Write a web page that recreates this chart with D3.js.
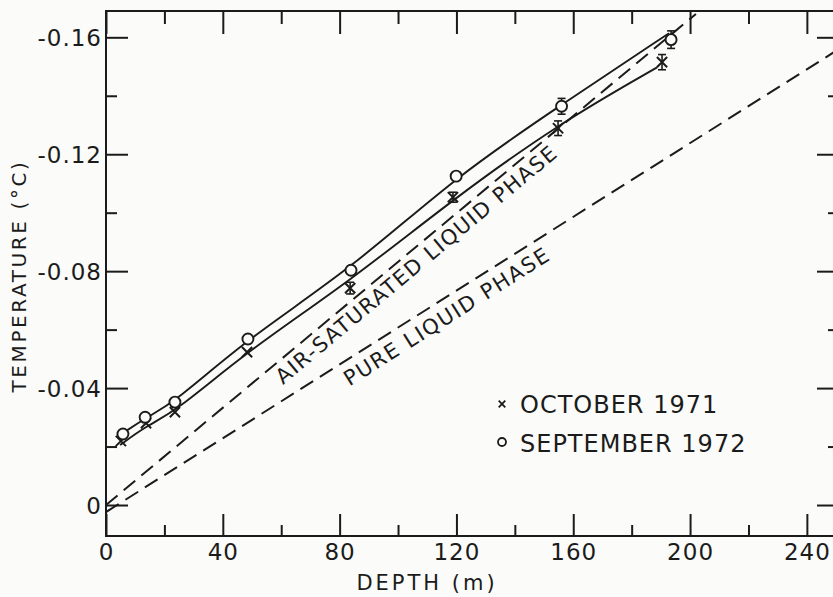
<!DOCTYPE html>
<html>
<head>
<meta charset="utf-8">
<script src="https://d3js.org/d3.v7.min.js"></script>
<style>
  body { margin: 0; background: #fbfbf9; }
  svg text { font-family: "DejaVu Sans", sans-serif; fill: #1b1b1b; }
</style>
</head>
<body>
<div id="chart"></div>
<script>
// measured points, October 1971 (crosses)
var octDepth = [5.1, 13.7, 23.6, 48.3, 83.6, 118.8, 154.8, 190.4];
var octTemp  = [-0.0219, -0.0280, -0.0318, -0.0523, -0.0742, -0.1053, -0.1289, -0.1515];
var octErr   = [0, 0, 0, 0, 0.0020, 0.0017, 0.0025, 0.0026];

// measured points, September 1972 (circles)
var sepDepth = [5.8, 13.4, 23.6, 48.6, 83.9, 119.9, 156.0, 193.5];
var sepTemp  = [-0.0243, -0.0300, -0.0352, -0.0568, -0.0803, -0.1125, -0.1364, -0.1592];
var sepErr   = [0, 0, 0, 0, 0, 0, 0.0027, 0.0030];

// hand drawn curves through each set
var octCurveDepth = [4.8, 13.7, 24.0, 48.3, 83.6, 118.8, 154.8, 188.7];
var octCurveTemp  = [-0.0205, -0.0270, -0.0321, -0.0526, -0.0766, -0.1046, -0.1303, -0.1497];
var sepCurveDepth = [5.8, 13.4, 23.6, 48.6, 83.9, 119.9, 156.2, 192.8];
var sepCurveTemp  = [-0.0246, -0.0297, -0.0352, -0.0571, -0.0807, -0.1125, -0.1371, -0.1614];

// melting point lines
var airDepth  = [0, 202];
var airTemp   = [0.0, -0.168];
var pureDepth = [0, 251];
var pureTemp  = [0.0024, -0.156];

// ticks
var xMajor = [0, 40, 80, 120, 160, 200, 240];
var xMinor = [20, 60, 100, 140, 180, 220];
var yMajor = [0, -0.04, -0.08, -0.12, -0.16];
var yMinor = [-0.02, -0.06, -0.10, -0.14];
var yLabels = ["0", "-0.04", "-0.08", "-0.12", "-0.16"];

var W = 833, H = 597;
var mLeft = 106, mRight = 839, mTop = 11, mBottom = 536;
var ink = "#1b1b1b";

var svg = d3.select("#chart")
  .append("svg")
    .attr("width", W)
    .attr("height", H);

var x = d3.scaleLinear().domain([0, 251]).range([mLeft, mRight]);
var y = d3.scaleLinear().domain([0.0106, -0.169]).range([mBottom, mTop]);

function zip(a, b) { return a.map(function(d, i) { return [d, b[i]]; }); }

svg.append("clipPath").attr("id", "plot")
  .append("rect")
    .attr("x", mLeft).attr("y", mTop)
    .attr("width", mRight - mLeft).attr("height", mBottom - mTop);

// frame
svg.append("rect")
    .attr("x", mLeft).attr("y", mTop)
    .attr("width", mRight - mLeft).attr("height", mBottom - mTop)
    .attr("fill", "none")
    .attr("stroke", ink)
    .attr("stroke-width", 2);

// axes, ticks drawn inward
var bottomAx = svg.append("g").attr("transform", "translate(0," + mBottom + ")");
bottomAx.call(d3.axisBottom(x).tickValues(xMajor).tickSize(-22).tickPadding(8)
    .tickFormat(d3.format("d")));
bottomAx.append("g").call(d3.axisBottom(x).tickValues(xMinor).tickSize(-11).tickFormat(""));

var topAx = svg.append("g").attr("transform", "translate(0," + mTop + ")");
topAx.call(d3.axisTop(x).tickValues(xMajor).tickSize(-23).tickFormat(""));
topAx.append("g").call(d3.axisTop(x).tickValues(xMinor).tickSize(-13).tickFormat(""));

var leftAx = svg.append("g").attr("transform", "translate(" + mLeft + ",0)");
leftAx.call(d3.axisLeft(y).tickValues(yMajor).tickSize(-22).tickPadding(4)
    .tickFormat(function(d, i) { return yLabels[i]; }));
leftAx.append("g").call(d3.axisLeft(y).tickValues(yMinor).tickSize(-11).tickFormat(""));

var rightAx = svg.append("g").attr("transform", "translate(" + mRight + ",0)");
rightAx.call(d3.axisRight(y).tickValues(yMajor).tickSize(-22).tickFormat(""));
rightAx.append("g").call(d3.axisRight(y).tickValues(yMinor).tickSize(-11).tickFormat(""));

svg.selectAll(".domain").remove();
svg.selectAll(".tick line").attr("stroke", ink).attr("stroke-width", 2);
svg.selectAll(".tick text")
    .attr("fill", ink)
    .style("font-size", "23px")
    .style("letter-spacing", "1px");
leftAx.selectAll(".tick text").attr("dy", "0.36em");

// axis titles
svg.append("text")
    .attr("x", 427).attr("y", 590)
    .attr("text-anchor", "middle")
    .style("font-size", "21px")
    .style("letter-spacing", "3px")
    .text("DEPTH (m)");

svg.append("text")
    .attr("transform", "translate(26,276) rotate(-90)")
    .attr("text-anchor", "middle")
    .style("font-size", "20px")
    .style("letter-spacing", "2.6px")
    .text("TEMPERATURE (°C)");

var line = d3.line()
  .x(function(d) { return x(d[0]); })
  .y(function(d) { return y(d[1]); });

var plot = svg.append("g").attr("clip-path", "url(#plot)");

// dashed melting curves
plot.append("path")
    .attr("d", line(zip(airDepth, airTemp)))
    .attr("fill", "none").attr("stroke", ink)
    .attr("stroke-width", 2).attr("stroke-dasharray", "15,8");
plot.append("path")
    .attr("d", line(zip(pureDepth, pureTemp)))
    .attr("fill", "none").attr("stroke", ink)
    .attr("stroke-width", 2).attr("stroke-dasharray", "15,8");

// solid curves, smoothed through the readings
var smooth = d3.line()
  .x(function(d) { return x(d[0]); })
  .y(function(d) { return y(d[1]); })
  .curve(d3.curveBasis);
plot.append("path")
    .attr("d", smooth(zip(octCurveDepth, octCurveTemp)))
    .attr("fill", "none").attr("stroke", ink).attr("stroke-width", 1.9);
plot.append("path")
    .attr("d", smooth(zip(sepCurveDepth, sepCurveTemp)))
    .attr("fill", "none").attr("stroke", ink).attr("stroke-width", 1.9);

// error bars
function errBars(depth, temp, err) {
  var g = svg.append("g").attr("stroke", ink).attr("stroke-width", 1.6);
  depth.forEach(function(d, i) {
    if (!err[i]) return;
    var cx = x(d), y1 = y(temp[i] - err[i]), y2 = y(temp[i] + err[i]);
    g.append("line").attr("x1", cx).attr("x2", cx).attr("y1", y1).attr("y2", y2);
    g.append("line").attr("x1", cx - 4).attr("x2", cx + 4).attr("y1", y1).attr("y2", y1);
    g.append("line").attr("x1", cx - 4).attr("x2", cx + 4).attr("y1", y2).attr("y2", y2);
  });
}
errBars(octDepth, octTemp, octErr);
errBars(sepDepth, sepTemp, sepErr);

// crosses
var cross = d3.symbol().type(d3.symbolX).size(70);
svg.append("g").selectAll("path")
  .data(zip(octDepth, octTemp))
  .join("path")
    .attr("transform", function(d) { return "translate(" + x(d[0]) + "," + y(d[1]) + ")"; })
    .attr("d", cross)
    .attr("fill", "none").attr("stroke", ink).attr("stroke-width", 2);

// circles
svg.append("g").selectAll("circle")
  .data(zip(sepDepth, sepTemp))
  .join("circle")
    .attr("cx", function(d) { return x(d[0]); })
    .attr("cy", function(d) { return y(d[1]); })
    .attr("r", 5.5)
    .attr("fill", "#fbfbf9").attr("stroke", ink).attr("stroke-width", 1.9);

// labels running along the dashed lines
function lineLabel(depth, temp, startDepth, offset, txt, len) {
  var x0 = x(depth[0]), y0 = y(temp[0]), x1 = x(depth[1]), y1 = y(temp[1]);
  var ang = Math.atan2(y1 - y0, x1 - x0) * 180 / Math.PI;
  var t = (startDepth - depth[0]) / (depth[1] - depth[0]);
  var px = x0 + t * (x1 - x0), py = y0 + t * (y1 - y0);
  svg.append("text")
      .attr("transform", "translate(" + px + "," + py + ") rotate(" + ang + ")")
      .attr("y", offset)
      .attr("textLength", len)
      .attr("lengthAdjust", "spacing")
      .style("font-size", "21px")
      .text(txt);
}
lineLabel(airDepth, airTemp, 56, 21, "AIR-SATURATED LIQUID PHASE", 358);
lineLabel(pureDepth, pureTemp, 79, 24, "PURE LIQUID PHASE", 238);

// legend
svg.append("path")
    .attr("transform", "translate(502,404)")
    .attr("d", d3.symbol().type(d3.symbolX).size(30))
    .attr("fill", "none").attr("stroke", ink).attr("stroke-width", 1.8);
svg.append("circle")
    .attr("cx", 502).attr("cy", 442).attr("r", 4)
    .attr("fill", "none").attr("stroke", ink).attr("stroke-width", 1.8);
svg.append("text")
    .attr("x", 520).attr("y", 413)
    .style("font-size", "24px").style("letter-spacing", "1px")
    .text("OCTOBER 1971");
svg.append("text")
    .attr("x", 520).attr("y", 452)
    .style("font-size", "24px").style("letter-spacing", "1px")
    .text("SEPTEMBER 1972");
</script>
</body>
</html>
